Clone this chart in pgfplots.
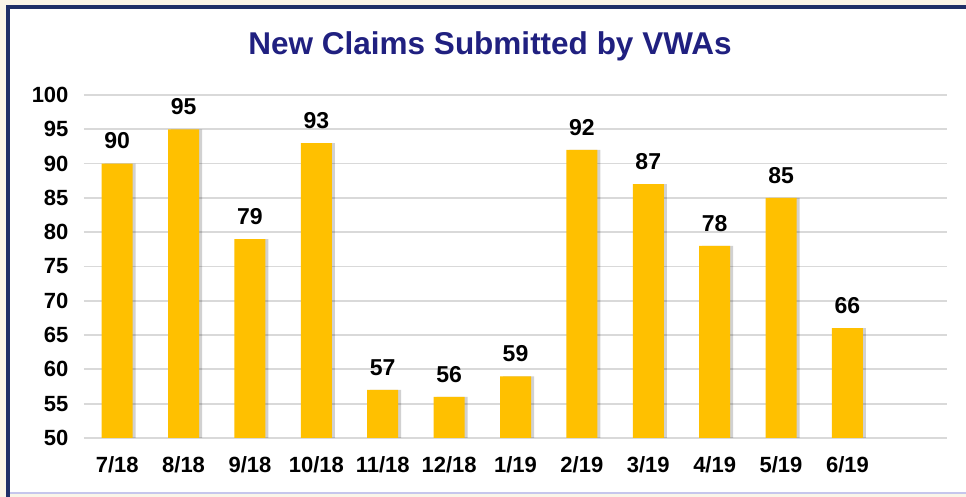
\documentclass[border=0pt]{standalone}
\usepackage{pgfplots}
\pgfplotsset{compat=1.18}
\usepackage{fontspec}
\setmainfont{Liberation Sans}
\definecolor{barc}{RGB}{255,192,0}
\definecolor{titlec}{RGB}{32,32,128}
\definecolor{framec}{RGB}{31,48,104}
\definecolor{creamc}{RGB}{250,245,232}
\definecolor{gridc}{RGB}{217,217,217}
\begin{document}
\begin{tikzpicture}[x=1pt,y=1pt]
\useasboundingbox (0,0) rectangle (966,497);
\fill[creamc] (0,0) rectangle (966,497);
\fill[white] (6,4) rectangle (966,492);
\draw[framec, line width=4pt] (8,0) -- (8,490) -- (966,490);
\draw[gray!50!blue!30, line width=1.5pt] (10,4) -- (966,4);
\node[font=\bfseries\fontsize{31.5}{34}\selectfont, text=titlec] at (490,451) {New Claims Submitted by VWAs};
\begin{axis}[
  at={(84pt,59pt)}, anchor=south west,
  scale only axis, width=863pt, height=343pt,
  ymin=50, ymax=100, ytick={50,55,...,100},
  xmin=-0.5, xmax=12.5,
  xtick={0,...,11},
  xticklabels={7/18,8/18,9/18,10/18,11/18,12/18,1/19,2/19,3/19,4/19,5/19,6/19},
  ymajorgrids, grid style={draw=gridc, line width=1.8pt},
  axis line style={draw=none},
  major tick length=0pt,
  tick label style={font=\bfseries\fontsize{22}{24}\selectfont},
  /pgf/number format/assume math mode=true,
  yticklabel style={xshift=-12pt},
  xticklabel style={yshift=-15pt},
  ybar, clip=false,
]
\addplot[fill=black, opacity=0.18, draw=none, bar width=31pt, bar shift=3pt, forget plot] coordinates {
(0,90) (1,95) (2,79) (3,93) (4,57) (5,56) (6,59) (7,92) (8,87) (9,78) (10,85) (11,66)};
\addplot[fill=barc, draw=none, bar width=31pt, bar shift=0pt,
  nodes near coords, nodes near coords style={font=\bfseries\fontsize{23}{25}\selectfont, text=black, yshift=11pt}] coordinates {
(0,90) (1,95) (2,79) (3,93) (4,57) (5,56) (6,59) (7,92) (8,87) (9,78) (10,85) (11,66)};
\end{axis}
\end{tikzpicture}
\end{document}
